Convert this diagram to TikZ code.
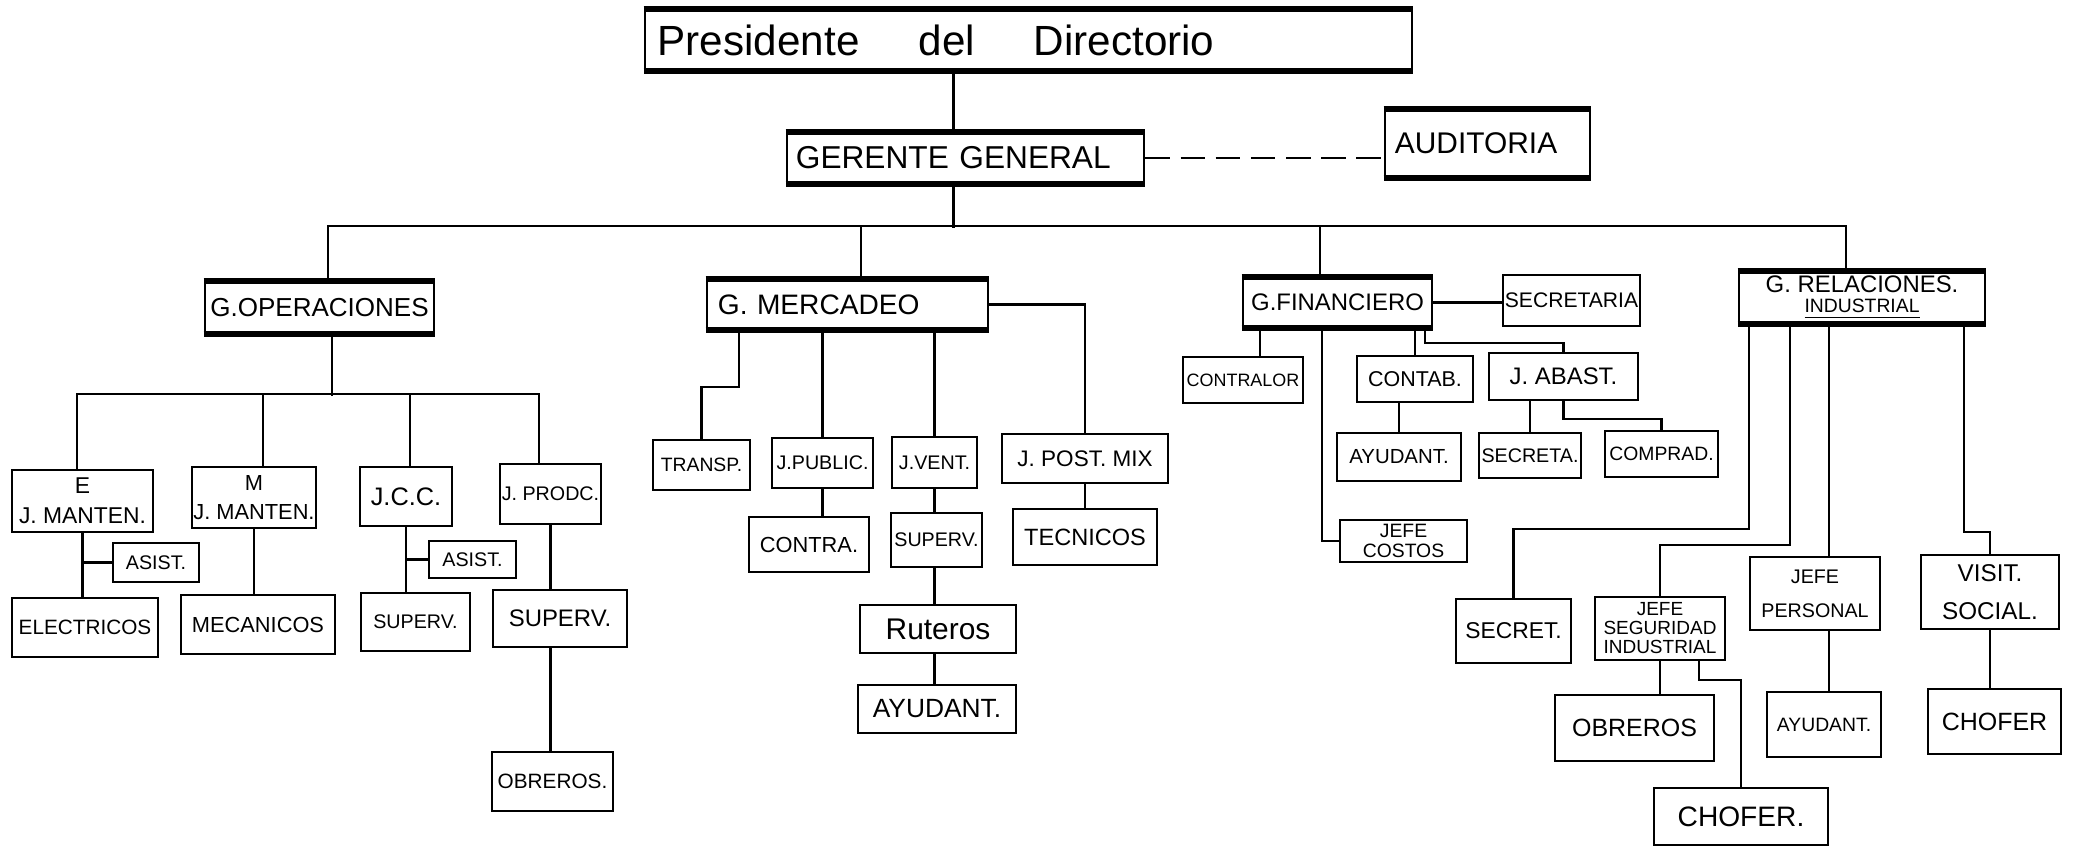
\documentclass[tikz,border=0pt]{standalone}
\usepackage{fontspec}
\setmainfont{Liberation Sans}
\tikzset{
    caja/.style={draw, line width=.7pt, inner xsep=0pt, inner ysep=0pt, align=center},
    tam/.style 2 args={minimum width=#1, minimum height=#2},
    fs/.style={font=\fontsize{#1}{#1}\selectfont},
    izq/.style={text width=#1, align=left},
    barra/.style={append after command={(\tikzlastnode.north west) edge [line width=1.8pt] (\tikzlastnode.north east) (\tikzlastnode.south west) edge [line width=1.8pt] (\tikzlastnode.south east)}}
}
\begin{document}
\begin{tikzpicture}[x=0.01cm, y=-0.01cm, line width=.6pt]
        \useasboundingbox (0,0) rectangle (2073,849);
        \node [caja, barra, tam={7.67cm}{.60cm}, inner xsep=.13cm, izq=7.41cm, fs=12] (pres) at (1028.5,40) {Presidente\hspace{1.4em}del\hspace{1.4em}Directorio};
        \node [caja, barra, tam={3.57cm}{.50cm}, inner xsep=.09cm, izq=3.39cm, fs=9] (ger) at (965.5,158) {GERENTE GENERAL};
        \node [caja, barra, tam={2.05cm}{.67cm}, inner xsep=.1cm, izq=1.85cm, fs=8.5] (aud) at (1487.5,143.5) {AUDITORIA};
        \node [caja, barra, tam={2.29cm}{.51cm}, fs=7.4] (gop) at (319.5,307.5) {G.OPERACIONES};
        \node [caja, barra, tam={2.81cm}{.49cm}, inner xsep=.11cm, izq=2.59cm, fs=8] (gmer) at (847.5,304.5) {G. MERCADEO};
        \node [caja, barra, tam={1.89cm}{.49cm}, fs=6.8] (gfin) at (1337.5,302.5) {G.FINANCIERO};
        \node [caja, tam={1.37cm}{.51cm}, fs=6] (secr) at (1571.5,300.5) {SECRETARIA};
        \node [caja, barra, tam={2.46cm}{.51cm}, fs=6.8] (grel) at (1862,297.5) {G. RELACIONES.\\[-1pt]{\fontsize{5.5}{5.5}\selectfont\underline{INDUSTRIAL}}};
        \node [caja, tam={1.41cm}{.62cm}, fs=6.5] (jme) at (82.5,501) {E\\[2pt]J. MANTEN.};
        \node [caja, tam={1.24cm}{.61cm}, fs=6.2] (jmm) at (254,497.5) {M\\[2pt]J. MANTEN.};
        \node [caja, tam={.92cm}{.59cm}, fs=7.2] (jcc) at (406,496.5) {J.C.C.};
        \node [caja, tam={1.01cm}{.60cm}, fs=5.6] (jpro) at (550.5,494) {J. PRODC.};
        \node [caja, tam={.86cm}{.39cm}, fs=5.6] (asi1) at (156,562.5) {ASIST.};
        \node [caja, tam={1.46cm}{.59cm}, fs=5.9] (elec) at (85,627.5) {ELECTRICOS};
        \node [caja, tam={1.54cm}{.59cm}, fs=6.2] (meca) at (258,624.5) {MECANICOS};
        \node [caja, tam={.87cm}{.37cm}, fs=5.6] (asi2) at (472.5,559.5) {ASIST.};
        \node [caja, tam={1.09cm}{.58cm}, fs=5.6] (sup1) at (415.5,622) {SUPERV.};
        \node [caja, tam={1.34cm}{.57cm}, fs=6.8] (sup2) at (560,618.5) {SUPERV.};
        \node [caja, tam={1.21cm}{.59cm}, fs=5.9] (obr1) at (552.5,781.5) {OBREROS.};
        \node [caja, tam={.97cm}{.50cm}, fs=5.5] (tra) at (701.5,465) {TRANSP.};
        \node [caja, tam={1.01cm}{.50cm}, fs=5.6] (jpub) at (822.5,463) {J.PUBLIC.};
        \node [caja, tam={.85cm}{.51cm}, fs=5.6] (jven) at (934.5,462.5) {J.VENT.};
        \node [caja, tam={1.66cm}{.49cm}, fs=6.4] (jpos) at (1085,458.5) {J. POST. MIX};
        \node [caja, tam={1.20cm}{.55cm}, fs=6.2] (con) at (809,544.5) {CONTRA.};
        \node [caja, tam={.91cm}{.54cm}, fs=5.6] (sup3) at (936.5,540) {SUPERV.};
        \node [caja, tam={1.44cm}{.56cm}, fs=6.7] (tec) at (1085,537) {TECNICOS};
        \node [caja, tam={1.56cm}{.48cm}, fs=8.5] (rut) at (938,629) {Ruteros};
        \node [caja, tam={1.58cm}{.48cm}, fs=7.5] (ayu1) at (937,709) {AYUDANT.};
        \node [caja, tam={1.20cm}{.46cm}, fs=5.1] (ctr) at (1243,380) {CONTRALOR};
        \node [caja, tam={1.16cm}{.46cm}, fs=6.1] (ctb) at (1415,379) {CONTAB.};
        \node [caja, tam={1.49cm}{.47cm}, fs=6.8] (jab) at (1563.5,376.5) {J. ABAST.};
        \node [caja, tam={1.24cm}{.48cm}, fs=5.8] (ayu2) at (1399,457) {AYUDANT.};
        \node [caja, tam={1.02cm}{.45cm}, fs=5.6] (sca) at (1530,455.5) {SECRETA.};
        \node [caja, tam={1.13cm}{.46cm}, fs=5.5] (com) at (1661.5,454) {COMPRAD.};
        \node [caja, tam={1.27cm}{.42cm}, fs=5.5] (cos) at (1403.5,541) {JEFE\\COSTOS};
        \node [caja, tam={1.15cm}{.64cm}, fs=6.5] (sec2) at (1513.5,631) {SECRET.};
        \node [caja, tam={1.30cm}{.63cm}, fs=5.4] (seg) at (1660,628.5) {JEFE\\SEGURIDAD\\INDUSTRIAL};
        \node [caja, tam={1.30cm}{.73cm}, fs=5.6] (per) at (1815,593.5) {JEFE\\[4pt]PERSONAL};
        \node [caja, tam={1.38cm}{.74cm}, fs=6.9] (vis) at (1990,592) {VISIT.\\[4pt]SOCIAL.};
        \node [caja, tam={1.59cm}{.66cm}, fs=7.1] (obr2) at (1634.5,728) {OBREROS};
        \node [caja, tam={1.74cm}{.57cm}, fs=8] (cho1) at (1741,816.5) {CHOFER.};
        \node [caja, tam={1.14cm}{.65cm}, fs=5.5] (ayu3) at (1824,724.5) {AYUDANT.};
        \node [caja, tam={1.33cm}{.65cm}, fs=7.1] (cho2) at (1994.5,721.5) {CHOFER};
        \draw ([xshift=-.12cm]ger.north) -- ++(0,-63);
        \draw ([xshift=-.12cm]ger.south) -- ++(0,44);
        \draw [dash pattern=on 7pt off 3pt] (ger.east) -- (ger.east -| aud.west);
        \draw ([xshift=.085cm]gop.north) -- ++(0,-55) -| ([xshift=-.16cm]grel.north);
        \draw ([xshift=.135cm]gmer.north) -- ++(0,-53);
        \draw ([xshift=-.175cm]gfin.north) -- ++(0,-51);
        \draw ([xshift=.125cm]gop.south) -- ++(0,62);
        \draw ([xshift=-.055cm]jme.north) -- ++(0,-75) -| ([xshift=-.115cm]jpro.north);
        \draw ([xshift=.09cm]jmm.north) -- ++(0,-72);
        \draw ([xshift=.04cm]jcc.north) -- ++(0,-72);
        \draw (jme.south) -- (jme.south |- elec.north);
        \draw (asi1.west) -- (asi1.west -| jme.south);
        \draw (jmm.south) -- (jmm.south |- meca.north);
        \draw (jcc.south) -- (jcc.south |- sup1.north);
        \draw (asi2.west) -- (asi2.west -| jcc.south);
        \draw (jpro.south) -- (jpro.south |- sup2.north);
        \draw (jpro.south |- sup2.south) -- (jpro.south |- obr1.north);
        \draw (tra.north) -- ++(0,-52) -| ([xshift=.33cm]gmer.south west);
        \draw (jpub.north) -- (jpub.north |- gmer.south);
        \draw (jven.north) -- (jven.north |- gmer.south);
        \draw (gmer.east) -| (jpos.north);
        \draw (jpub.south) -- (jpub.south |- con.north);
        \draw (jven.south) -- (jven.south |- sup3.north);
        \draw (jven.south |- sup3.south) -- (jven.south |- rut.north);
        \draw (jven.south |- rut.south) -- (jven.south |- ayu1.north);
        \draw (jpos.south) -- (jpos.south |- tec.north);
        \draw (gfin.east) -- (gfin.east -| secr.west);
        \draw ([xshift=.17cm]ctr.north) -- ++(0,-30);
        \draw (ctb.north) -- (ctb.north |- gfin.south);
        \draw ([xshift=-.08cm]gfin.south east) -- ++(0,15) -| (jab.north);
        \draw (cos.west) -| ([xshift=.8cm]gfin.south west);
        \draw (ayu2.north) -- (ayu2.north |- ctb.south);
        \draw (sca.north) -- (sca.north |- jab.south);
        \draw (jab.south) -- ++(0,18) -| (com.north);
        \draw (sec2.north) -- ++(0,-69) -| ([xshift=.11cm]grel.south west);
        \draw (seg.north) -- ++(0,-51) -| ([xshift=.52cm]grel.south west);
        \draw ([xshift=.14cm]per.north) -- ++(0,-234);
        \draw (vis.north) -- ++(0,-22) -| ([xshift=-.22cm]grel.south east);
        \draw (seg.south) -- (seg.south |- obr2.north);
        \draw ([xshift=.39cm]seg.south) -- ++(0,19) -| (cho1.north);
        \draw ([xshift=.14cm]per.south) -- ++(0,62);
        \draw (vis.south) -- (vis.south |- cho2.north);
    \end{tikzpicture}
\end{document}
